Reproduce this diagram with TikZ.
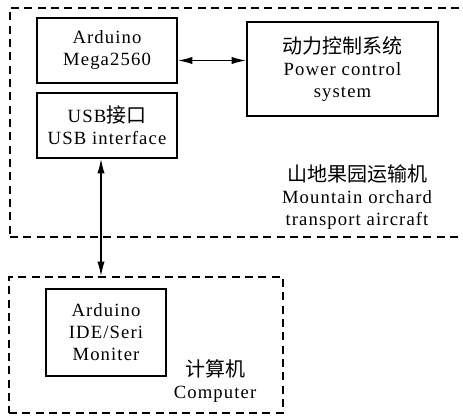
\documentclass[tikz,border=0pt]{standalone}
\usepackage{fontspec}
\setmainfont[LetterSpace=6]{Liberation Serif}
\newfontfamily\cjk{Noto Sans CJK SC}
\usepackage{tikz}
\usetikzlibrary{arrows.meta,positioning}

\begin{document}
\begin{tikzpicture}[x=0.75pt,y=-0.75pt,>={Latex[length=11pt,width=5.5pt]},font=\fontsize{14}{16.5}\selectfont]
\tikzstyle{box}=[rectangle,draw=black,line width=1.1pt,align=center,inner sep=0pt]
\tikzstyle{frame}=[rectangle,draw=black,line width=1.1pt,dash pattern=on 6pt off 4pt,inner sep=0pt]
\newcommand{\zh}[1]{{\cjk\fontsize{15}{16.5}\selectfont #1}}
\useasboundingbox (0,0) rectangle (463,417);
% outer frames
\node[frame,minimum width=352.5pt,minimum height=171.75pt] (machine) at (245,122.5) {};
\node[frame,minimum width=205.5pt,minimum height=102pt] (pc) at (146,345) {};
% blocks
\node[box,minimum width=105pt,minimum height=48.75pt] (mega) at (107,50.5) {Arduino\\Mega2560};
\node[box,minimum width=105pt,minimum height=48.75pt] (usb) at (107,125.5) {USB\zh{接口}\\USB interface};
\node[box,minimum width=143.25pt,minimum height=70.5pt] (power) at (342.5,69) {\zh{动力控制系统}\\Power control\\system};
\node[box,minimum width=90pt,minimum height=65.25pt] (ide) at (106,332.5) {Arduino\\IDE/Seri\\Moniter};
% labels
\node[align=center] (machinelbl) at (357,197) {\zh{山地果园运输机}\\Mountain orchard\\transport aircraft};
\node[align=center] (pclbl) at (215,381) {\zh{计算机}\\Computer};
% links
\draw[<->,line width=1.1pt] ([yshift=-7.5pt]mega.east) -- ([yshift=-7.5pt]mega.east -| power.west);
\draw[<->,line width=1.1pt] ([xshift=-4.5pt]usb.south) -- ([xshift=-4.5pt]usb.south |- pc.north);
\end{tikzpicture}
\end{document}
